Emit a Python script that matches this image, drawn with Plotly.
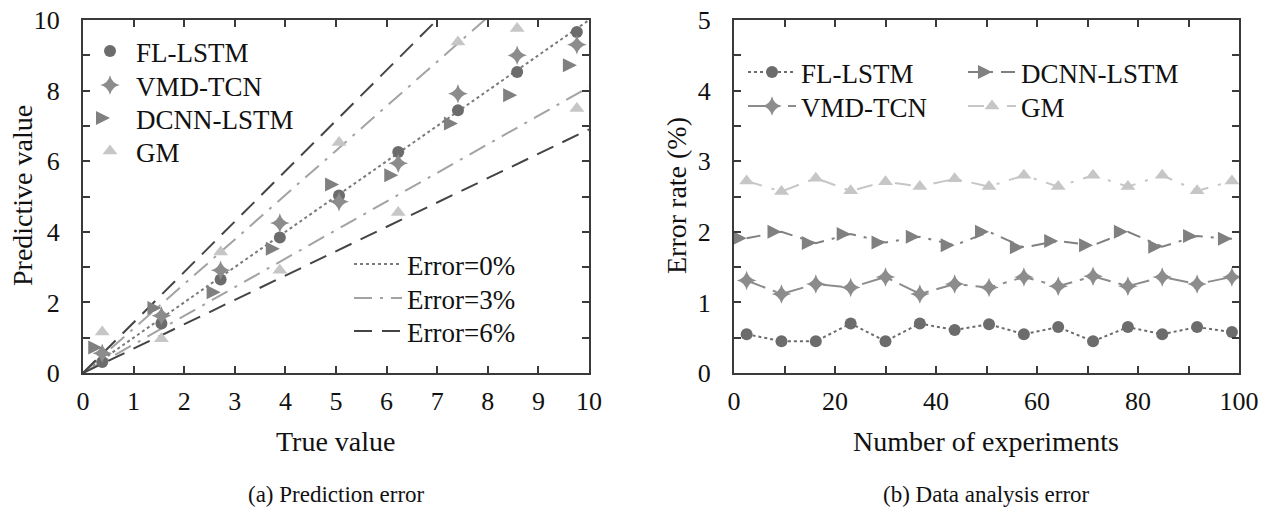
import plotly.graph_objects as go

# ---------------- data: (a) Prediction error ----------------
true_vals = [0.38, 1.55, 2.72, 3.89, 5.06, 6.23, 7.41, 8.58, 9.76]
pred_fl = [0.31, 1.40, 2.65, 3.84, 5.03, 6.26, 7.44, 8.53, 9.66]
pred_vmd = [0.56, 1.62, 2.91, 4.25, 4.85, 5.94, 7.91, 9.00, 9.30]
pred_dcnn = [0.72, 1.84, 2.29, 3.52, 5.34, 5.60, 7.07, 7.87, 8.72]
pred_gm = [1.16, 0.97, 3.43, 2.91, 6.53, 4.55, 9.38, 9.76, 7.49]

ref_names = ["Error=0%", "Error=3%", "Error=6%"]
ref_slopes_upper = [1.0, 1.26, 1.43]
ref_slopes_lower = [1.0, 0.81, 0.69]
ref_x = [0, 10]

# ---------------- data: (b) Data analysis error ----------------
exp_x = [2.5, 9.4, 16.2, 23.1, 30.0, 36.8, 43.7, 50.5, 57.4, 64.2, 71.1, 78.0, 84.8, 91.7, 98.6]
err_fl = [0.55, 0.45, 0.45, 0.70, 0.45, 0.70, 0.61, 0.69, 0.55, 0.65, 0.45, 0.65, 0.55, 0.65, 0.58]
err_vmd = [1.31, 1.12, 1.26, 1.21, 1.36, 1.12, 1.26, 1.21, 1.36, 1.23, 1.37, 1.23, 1.36, 1.26, 1.36]
err_dcnn = [1.91, 2.00, 1.84, 1.97, 1.85, 1.93, 1.81, 2.00, 1.78, 1.87, 1.81, 2.00, 1.79, 1.94, 1.90]
err_gm = [2.72, 2.57, 2.76, 2.58, 2.71, 2.64, 2.75, 2.64, 2.80, 2.64, 2.80, 2.64, 2.80, 2.58, 2.72]

names = ["FL-LSTM", "VMD-TCN", "DCNN-LSTM", "GM"]

FONT = "Liberation Serif"
W, H = 1274, 514

def px(x):
    return x / W

def py(y):
    return 1 - y / H

styles = {
    "FL-LSTM": dict(color="#6c6c6c", symbol="circle", size=12, dash="dot"),
    "VMD-TCN": dict(color="#8c8c8c", symbol="star-diamond", size=14, dash="20px,8px,4px,8px"),
    "DCNN-LSTM": dict(color="#808080", symbol="arrow-right", size=14, dash="14px,8px,3px,8px"),
    "GM": dict(color="#c6c6c6", symbol="triangle-up", size=13, dash="16px,10px,3px,10px"),
}

fig = go.Figure()
legends = {}

def leg(key, left, center_y, itemwidth):
    legends[key] = dict(x=px(left), y=py(center_y - 25), xanchor="left", yanchor="top",
                        bgcolor="rgba(0,0,0,0)", orientation="v", itemwidth=itemwidth,
                        font=dict(family=FONT, size=27, color="#111111"))
    return key

# (a) reference lines
ref_colors = ["#7a7a7a", "#a3a3a3", "#444444"]
ref_dashes = ["dot", "18px,8px,3px,8px", "18px,10px"]
ref_leg_y = [265, 299, 332]
for i, nm in enumerate(ref_names):
    key = leg("legend%d" % (2 + i), 349, ref_leg_y[i], 48)
    slopes = [ref_slopes_upper[i]] if i == 0 else [ref_slopes_upper[i], ref_slopes_lower[i]]
    for j, s in enumerate(slopes):
        fig.add_trace(go.Scatter(
            x=ref_x, y=[s * v for v in ref_x], mode="lines", name=nm,
            line=dict(color=ref_colors[i], width=2, dash=ref_dashes[i]),
            showlegend=(j == 0), legend=key, xaxis="x", yaxis="y",
            hoverinfo="skip"))

# (a) scatter markers
mk_leg_y = [52, 86, 119, 152]
for i, (nm, ys) in enumerate(zip(names, [pred_fl, pred_vmd, pred_dcnn, pred_gm])):
    st = styles[nm]
    key = "legend" if i == 0 else "legend%d" % (4 + i)
    leg(key, 84, mk_leg_y[i], 42)
    fig.add_trace(go.Scatter(
        x=true_vals, y=ys, mode="markers", name=nm,
        marker=dict(color=st["color"], symbol=st["symbol"], size=st["size"], line=dict(width=0)),
        legend=key, xaxis="x", yaxis="y"))

# (b) lines with markers
ln_leg_pos = {"FL-LSTM": (743, 73), "VMD-TCN": (743, 107), "DCNN-LSTM": (963, 73), "GM": (963, 107)}
for i, (nm, ys) in enumerate(zip(names, [err_fl, err_vmd, err_dcnn, err_gm])):
    st = styles[nm]
    key = leg("legend%d" % (8 + i), ln_leg_pos[nm][0], ln_leg_pos[nm][1], 48)
    fig.add_trace(go.Scatter(
        x=exp_x, y=ys, mode="lines+markers", name=nm,
        line=dict(color=st["color"], width=2, dash=st["dash"]),
        marker=dict(color=st["color"], symbol=st["symbol"], size=st["size"], line=dict(width=0)),
        legend=key, xaxis="x2", yaxis="y2"))

axis_common = dict(
    showline=True, linecolor="#3a3a3a", linewidth=2, mirror="ticks",
    ticks="inside", ticklen=7, tickwidth=1.5, tickcolor="#3a3a3a",
    showgrid=False, zeroline=False, ticklabeloverflow="allow",
    tickfont=dict(family=FONT, size=26, color="#111111"),
)
minor_common = dict(ticks="inside", ticklen=7, tickwidth=1.5, tickcolor="#3a3a3a")

fig.update_layout(
    width=W, height=H,
    margin=dict(l=0, r=0, t=0, b=0, autoexpand=False),
    paper_bgcolor="white", plot_bgcolor="white",
    font=dict(family=FONT, size=26, color="#111111"),
    xaxis=dict(domain=[px(83), px(589)], range=[0, 10], dtick=1, anchor="y",
               ticklabelstandoff=4, **axis_common),
    yaxis=dict(domain=[py(373), py(20)], range=[0, 10], dtick=2, anchor="x",
               minor=dict(dtick=1, **minor_common), ticklabelstandoff=16, **axis_common),
    xaxis2=dict(domain=[px(734), px(1239)], range=[0, 100], dtick=20, anchor="y2",
                minor=dict(dtick=10, **minor_common), ticklabelstandoff=4, **axis_common),
    yaxis2=dict(domain=[py(373), py(20)], range=[0, 5], dtick=1, anchor="x2",
                minor=dict(dtick=0.5, **minor_common), ticklabelstandoff=16, **axis_common),
    showlegend=True,
    **legends,
)

ann = [
    dict(text="True value", x=px(336), y=py(441), size=28, angle=0),
    dict(text="Number of experiments", x=px(986), y=py(441), size=28, angle=0),
    dict(text="Predictive value", x=px(22), y=py(196), size=28, angle=-90),
    dict(text="Error rate (%)", x=px(676), y=py(196), size=28, angle=-90),
    dict(text="(a) Prediction error", x=px(336), y=py(494), size=23, angle=0),
    dict(text="(b) Data analysis error", x=px(986), y=py(494), size=23, angle=0),
]
for a in ann:
    fig.add_annotation(text=a["text"], x=a["x"], y=a["y"], xref="paper", yref="paper",
                       xanchor="center", yanchor="middle", showarrow=False,
                       textangle=a["angle"], font=dict(family=FONT, size=a["size"], color="#111111"))

fig.write_html("out.html", config={"displayModeBar": False},
               post_script="document.body.style.margin='0px';document.body.style.overflow='hidden';")
